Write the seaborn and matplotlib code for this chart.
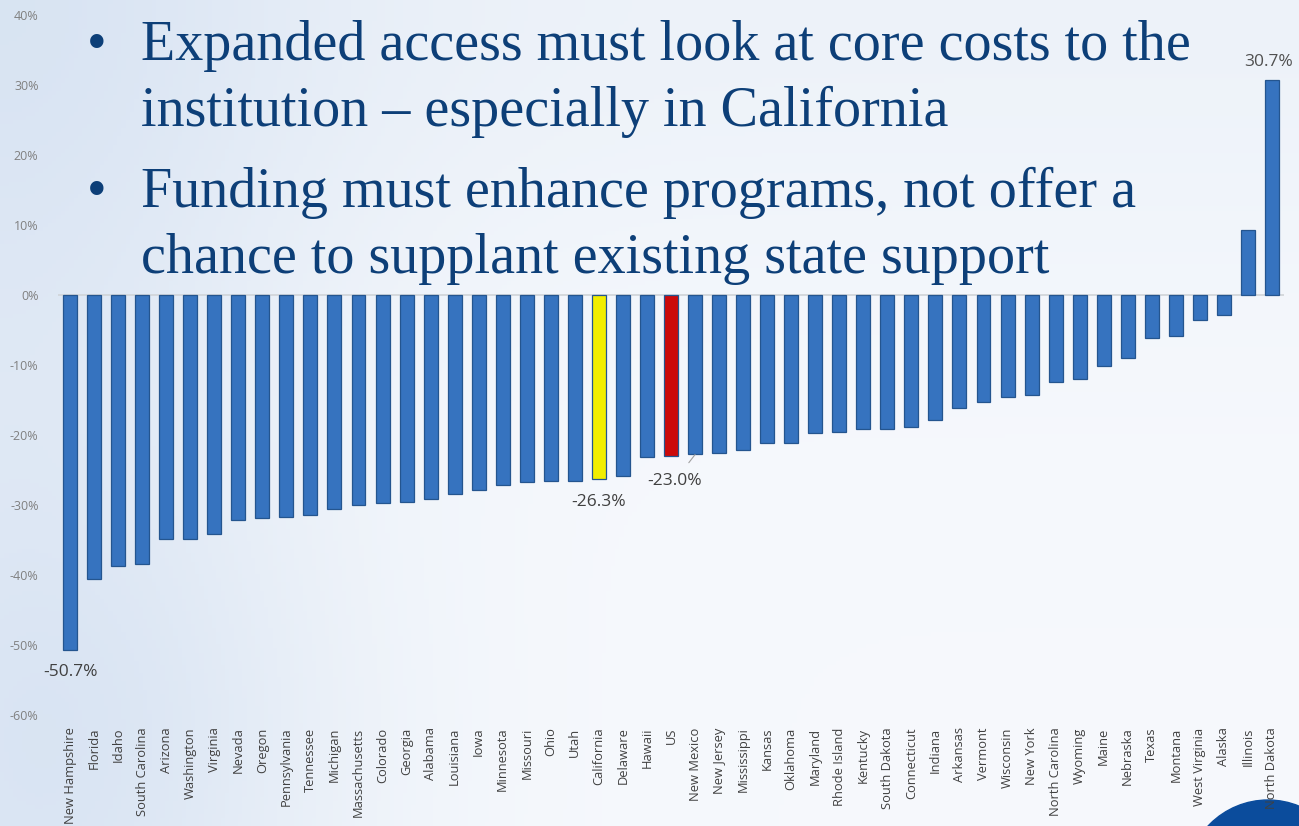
import numpy as np
import pandas as pd
import seaborn as sns
import matplotlib.pyplot as plt
from matplotlib.patches import Circle

# change in state funding per student, sorted
states = ['New Hampshire', 'Florida', 'Idaho', 'South Carolina', 'Arizona', 'Washington',
          'Virginia', 'Nevada', 'Oregon', 'Pennsylvania', 'Tennessee', 'Michigan',
          'Massachusetts', 'Colorado', 'Georgia', 'Alabama', 'Louisiana', 'Iowa',
          'Minnesota', 'Missouri', 'Ohio', 'Utah', 'California', 'Delaware', 'Hawaii',
          'US', 'New Mexico', 'New Jersey', 'Mississippi', 'Kansas', 'Oklahoma',
          'Maryland', 'Rhode Island', 'Kentucky', 'South Dakota', 'Connecticut',
          'Indiana', 'Arkansas', 'Vermont', 'Wisconsin', 'New York', 'North Carolina',
          'Wyoming', 'Maine', 'Nebraska', 'Texas', 'Montana', 'West Virginia', 'Alaska',
          'Illinois', 'North Dakota']
values = [-50.7, -40.6, -38.7, -38.4, -34.9, -34.8, -34.2, -32.2, -31.9, -31.7, -31.4,
          -30.6, -30.0, -29.7, -29.6, -29.1, -28.4, -27.9, -27.1, -26.7, -26.6, -26.6,
          -26.3, -25.8, -23.1, -23.0, -22.7, -22.5, -22.1, -21.1, -21.1, -19.7, -19.5,
          -19.1, -19.1, -18.9, -17.8, -16.1, -15.3, -14.6, -14.3, -12.4, -12.0, -10.2,
          -9.0, -6.1, -5.9, -3.5, -2.8, 9.3, 30.7]
highlight = {'California': '#f2ee00', 'US': '#cc0a0a'}
labelled = ['New Hampshire', 'California', 'US', 'North Dakota']
bullets = [['Expanded access must look at core costs to the',
            'institution \u2013 especially in California'],
           ['Funding must enhance programs, not offer a',
            'chance to supplant existing state support']]

W, H = 1299, 826
fig = plt.figure(figsize=(W / 100, H / 100), dpi=100)

# soft slide background
bg = fig.add_axes([0, 0, 1, 1], zorder=-10)
xx, yy = np.meshgrid(np.linspace(0, 1, 300), np.linspace(0, 1, 200))
shade = 0.6 * np.exp(-((xx - 0.0) / 0.25) ** 2) + 0.25 * np.exp(-((yy - 0.0) / 0.35) ** 2) \
        + 0.25 * np.exp(-((xx - 0.08) / 0.2) ** 2 - ((yy - 0.9) / 0.3) ** 2)
shade = np.clip(shade, 0, 1)
base = np.array([0.965, 0.975, 0.99])
tint = np.array([0.83, 0.88, 0.945])
img = base + shade[..., None] * (tint - base)
bg.imshow(img, aspect='auto', extent=[0, 1, 0, 1], origin='upper')
bg.set_axis_off()

ax = fig.add_axes([58 / W, 1 - 715 / H, (1284 - 58) / W, (715 - 15) / H])
ax.patch.set_alpha(0)

df = pd.DataFrame({'state': states, 'value': values})
palette = {s: highlight.get(s, '#3673bf') for s in states}
sns.barplot(data=df, x='state', y='value', hue='state', palette=palette, legend=False,
            width=0.58, edgecolor='#24558f', linewidth=0.9, saturation=1, ax=ax)

ax.set_ylim(-60, 40)
ax.set_xlim(-0.5, len(states) - 0.5)
ax.set_yticks(range(-60, 41, 10))
ax.set_yticklabels([f'{t}%' for t in range(-60, 41, 10)], fontsize=9, color='#808080',
                   family='Open Sans')
ax.tick_params(axis='y', length=0, pad=14)
ax.tick_params(axis='x', length=0, pad=9)
plt.setp(ax.get_xticklabels(), rotation=90, fontsize=9.3, color='#404040', family='Open Sans')
ax.set_xlabel('')
ax.set_ylabel('')
for sp in ax.spines.values():
    sp.set_visible(False)
ax.axhline(0, color='#d0d4d8', lw=1.2, zorder=0)

for s in labelled:
    i = states.index(s)
    v = values[i]
    if s == 'US':
        ax.annotate(f'{v:.1f}%', xy=(i + 1, -22.8), xytext=(i + 0.15, -26.6),
                    ha='center', va='center', fontsize=12.5, color='#404040', family='Open Sans',
                    arrowprops=dict(arrowstyle='-', color='#a0a0a0', lw=0.8, shrinkA=7, shrinkB=0))
    elif v < 0:
        ax.text(i, v - 3.2, f'{v:.1f}%', ha='center', va='center', fontsize=12.5,
                color='#404040', family='Open Sans')
    else:
        ax.text(i - 0.15, v + 2.6, f'{v:.1f}%', ha='center', va='center', fontsize=12.5,
                color='#505050', family='Open Sans')

# slide bullet text
navy = '#0d3f78'
baselines = [[60, 126], [207, 273]]
for lines, ys in zip(bullets, baselines):
    fig.text(97 / W, 1 - ys[0] / H, '\u2022', ha='center', va='baseline', fontsize=40.4,
             color=navy, family='Liberation Serif')
    for txt, y in zip(lines, ys):
        fig.text(141 / W, 1 - y / H, txt, ha='left', va='baseline', fontsize=40.4,
                 color=navy, family='Liberation Serif')

# corner logo (inches from bottom-left), behind the chart labels
fig.patches.append(Circle((12.68, -0.56), 0.82, transform=fig.dpi_scale_trans,
                          color='#0b4c9c', zorder=-5))

fig.savefig('out.png', dpi=100)
